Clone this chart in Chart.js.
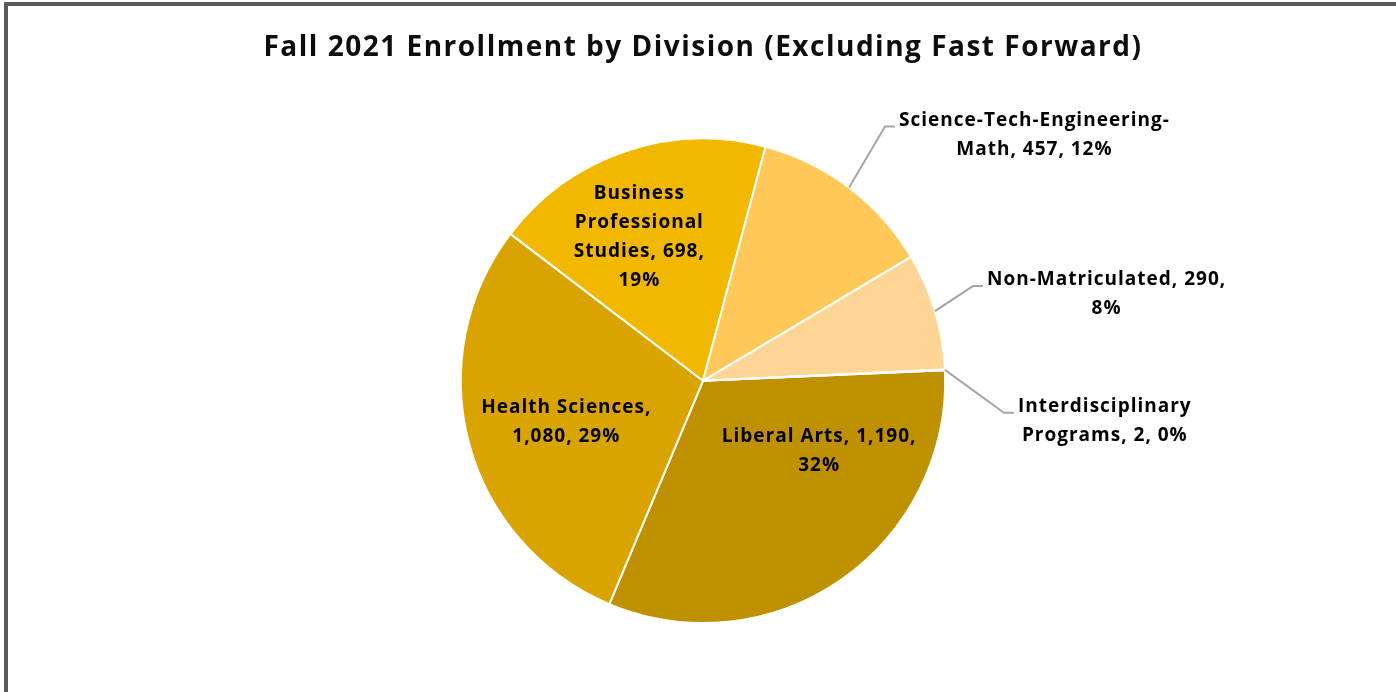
<!DOCTYPE html>
<html>
<head>
<meta charset="utf-8">
<script src="https://cdn.jsdelivr.net/npm/chart.js@4.4.1/dist/chart.umd.min.js"></script>
<style>
    html, body { margin: 0; padding: 0; background: #fff; }
    #wrap { position: relative; width: 1396px; height: 692px; overflow: hidden; }
    #wrap canvas { position: absolute; left: 0; top: 0; }
    #frame {
        position: absolute; left: 4px; top: 2px; right: -10px; bottom: -10px;
        border-top: 4px solid #595959; border-left: 4px solid #595959;
        pointer-events: none;
    }
</style>
</head>
<body>
<div id="wrap">
    <canvas id="enrollChart" width="1396" height="692"></canvas>
    <div id="frame"></div>
</div>
<script>
// Datos
const chartTitle = 'Fall 2021 Enrollment by Division (Excluding Fast Forward)';
const divisions = [
    'Liberal Arts',
    'Health Sciences',
    'Business Professional Studies',
    'Science-Tech-Engineering-Math',
    'Non-Matriculated',
    'Interdisciplinary Programs'
];
const enrollment = [1190, 1080, 698, 457, 290, 2];
const sliceColors = ['#BF9000', '#DAA400', '#F2B800', '#FFC859', '#FFD596', '#FFE2B0'];

// Colocación de etiquetas (solo estilo)
const labelFont = 'bold 19px "Open Sans"';
const labelSpacing = '1px';
const titleSpacing = '1.5px';
const labelLineHeight = 29;
const labelLayout = [
    { inside: true, shift: -24, ratio: 0.56, maxW: 215 },
    { inside: true, shift: -2, ratio: 0.59, maxW: 190 },
    { inside: true, shift: -5, ratio: 0.65, maxW: 160 },
    { inside: false, dx: 36, dy: -61, maxW: 290 },
    { inside: false, dx: 38, dy: -25, maxW: 255 },
    { inside: false, dx: 59, dy: 43, maxW: 220 }
];

function wrapText(ctx, text, maxW) {
    const pieces = [];
    text.split(' ').forEach((word, wi) => {
        word.split(/(?<=-)/).forEach((p, pi) => {
            pieces.push({ text: p, sep: (wi > 0 && pi === 0) ? ' ' : '' });
        });
    });
    const lines = [];
    let line = '';
    pieces.forEach(p => {
        const trial = line ? line + p.sep + p.text : p.text;
        if (line && ctx.measureText(trial).width > maxW) {
            lines.push(line);
            line = p.text;
        } else {
            line = trial;
        }
    });
    if (line) lines.push(line);
    return lines;
}

// Espaciado de letras para el título (Calibri es más ancha)
const titleSpacingPlugin = {
    id: 'titleSpacing',
    beforeDraw(chart) { chart.ctx.letterSpacing = titleSpacing; },
    afterDraw(chart) { chart.ctx.letterSpacing = '0px'; }
};

const pieLabels = {
    id: 'pieLabels',
    afterDatasetsDraw(chart) {
        const ctx = chart.ctx;
        const meta = chart.getDatasetMeta(0);
        const values = chart.data.datasets[0].data;
        const total = values.reduce((a, b) => a + b, 0);
        ctx.save();
        ctx.font = labelFont;
        ctx.letterSpacing = labelSpacing;
        ctx.fillStyle = '#000';
        ctx.textBaseline = 'middle';
        ctx.textAlign = 'center';
        meta.data.forEach((arc, i) => {
            const p = arc.getProps(['x', 'y', 'startAngle', 'endAngle', 'outerRadius'], true);
            const mid = (p.startAngle + p.endAngle) / 2;
            const lay = labelLayout[i];
            const pct = Math.round(values[i] / total * 100);
            const text = `${chart.data.labels[i]}, ${values[i].toLocaleString('en-US')}, ${pct}%`;
            const lines = wrapText(ctx, text, lay.maxW);
            let cx, cy;
            if (lay.inside) {
                const a = mid + lay.shift * Math.PI / 180;
                const r = p.outerRadius * lay.ratio;
                cx = p.x + r * Math.cos(a);
                cy = p.y + r * Math.sin(a);
            } else {
                const ex = p.x + p.outerRadius * Math.cos(mid);
                const ey = p.y + p.outerRadius * Math.sin(mid);
                const bx = ex + lay.dx, by = ey + lay.dy;
                ctx.strokeStyle = '#A6A6A6';
                ctx.lineWidth = 2;
                ctx.beginPath();
                ctx.moveTo(ex, ey);
                ctx.lineTo(bx, by);
                ctx.lineTo(bx + 10, by);
                ctx.stroke();
                const blockW = Math.max(...lines.map(l => ctx.measureText(l).width));
                cx = bx + 14 + blockW / 2;
                cy = by + 8;
            }
            const top = cy - (lines.length - 1) * labelLineHeight / 2;
            lines.forEach((l, k) => ctx.fillText(l, cx, top + k * labelLineHeight));
        });
        ctx.restore();
    }
};

new Chart(document.getElementById('enrollChart'), {
    type: 'pie',
    data: {
        labels: divisions,
        datasets: [{
            data: enrollment,
            backgroundColor: sliceColors,
            borderColor: '#FFFFFF',
            borderWidth: 2,
            hoverOffset: 0
        }]
    },
    options: {
        responsive: false,
        animation: false,
        events: [],
        rotation: 87.5,
        layout: { padding: { left: 10, right: 0, top: 0, bottom: 68 } },
        plugins: {
            legend: { display: false },
            tooltip: { enabled: false },
            title: {
                display: true,
                text: chartTitle,
                color: '#0D0D0D',
                font: { family: 'Open Sans', size: 28, weight: 'bold', lineHeight: 1.2 },
                padding: { top: 31, bottom: 73 }
            }
        }
    },
    plugins: [titleSpacingPlugin, pieLabels]
});
</script>
</body>
</html>
